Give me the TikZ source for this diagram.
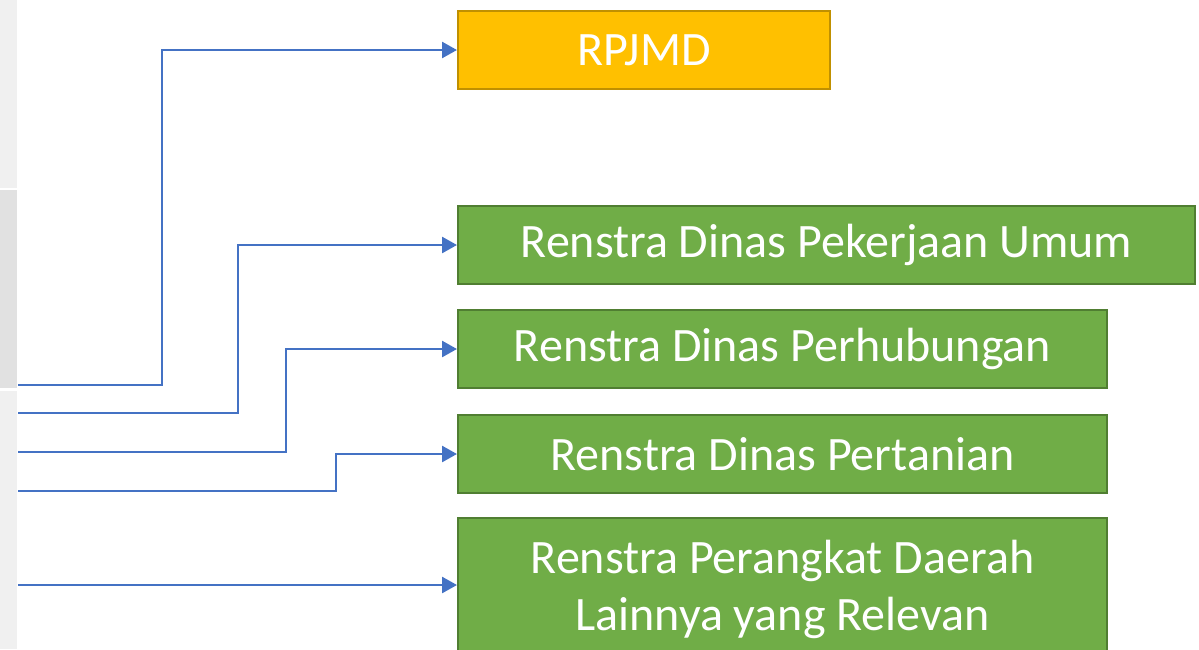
\documentclass[tikz,border=0pt]{standalone}
\usepackage{fontspec}
\setmainfont{Carlito}
\usetikzlibrary{arrows.meta}
\definecolor{strip1}{HTML}{F0F0F0}
\definecolor{strip2}{HTML}{E1E1E1}
\definecolor{gold}{HTML}{FFC000}
\definecolor{goldline}{HTML}{C09000}
\definecolor{grn}{HTML}{70AD47}
\definecolor{grnline}{HTML}{507E32}
\definecolor{blu}{HTML}{4472C4}
\begin{document}
\begin{tikzpicture}[x=1pt,y=-1pt,
  boxbase/.style={draw, line width=2pt, text=white, inner sep=0pt, anchor=north west,
    font=\fontsize{48pt}{57pt}\selectfont, align=center},
  goldbox/.style={boxbase, fill=gold, draw=goldline},
  greenbox/.style={boxbase, fill=grn, draw=grnline},
  conn/.style={draw=blu, line width=2.6pt, -{Triangle[length=15pt,width=16pt]}}]
\useasboundingbox (0,0) rectangle (1199,649);
\fill[white] (0,0) rectangle (1199,649);
% left strips
\fill[strip1] (0,0) rectangle (17,188);
\fill[strip2] (0,190) rectangle (17,388);
\fill[strip1] (0,391) rectangle (17,649);
% boxes
\node[goldbox, minimum width=372pt, minimum height=78pt] (rpjmd) at (457,10) {RPJMD};
\node[greenbox, minimum width=737pt, minimum height=78pt] (pu) at (457,205) {Renstra Dinas Pekerjaan Umum};
\node[greenbox, minimum width=649pt, minimum height=78pt] (hub) at (457,309) {Renstra Dinas Perhubungan};
\node[greenbox, minimum width=649pt, minimum height=78pt] (tani) at (457,414) {Renstra Dinas Pertanian};
\node[greenbox, minimum width=649pt, minimum height=134pt, text depth=0pt] (lain) at (457,517) {Renstra Perangkat Daerah\\Lainnya yang Relevan};
% free ends
\coordinate (s1) at (18,385);
\coordinate (s2) at (18,413);
\coordinate (s3) at (18,452);
\coordinate (s4) at (18,491);
\coordinate (s5) at (18,585);
\draw[conn] (s1) -- (162,385) |- (rpjmd.west);
\draw[conn] (s2) -- (238,413) |- (pu.west);
\draw[conn] (s3) -- (286,452) |- (hub.west);
\draw[conn] (s4) -- (336,491) |- (tani.west);
\draw[conn] (s5) -- (s5 -| lain.west);
\end{tikzpicture}
\end{document}
